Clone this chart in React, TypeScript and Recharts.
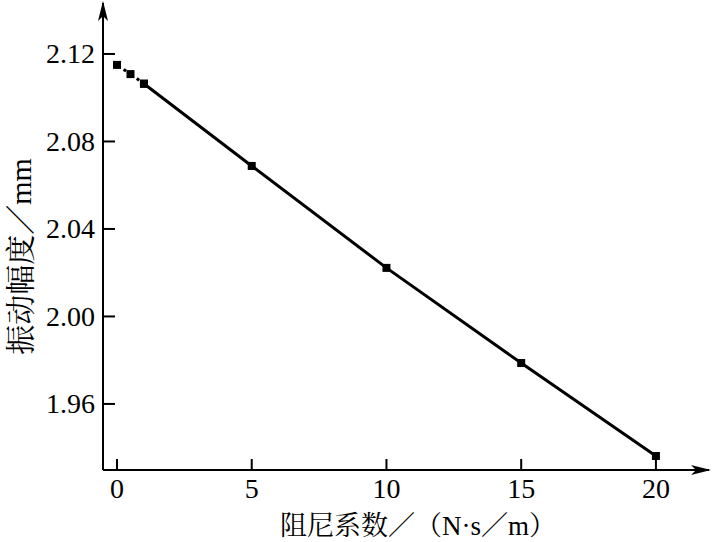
import React from 'react';
import { LineChart, Line, XAxis, YAxis, Label } from 'recharts';

// damping coefficient (N·s/m)
const damping = [0, 0.5, 1, 5, 10, 15, 20];
// vibration amplitude (mm)
const amplitude = [2.115, 2.1108, 2.1064, 2.0688, 2.0222, 1.9787, 1.9362];
const xTicks = [0, 5, 10, 15, 20];
const yTicks = [1.96, 2.0, 2.04, 2.08, 2.12];
const dottedCount = 3; // first three points joined by a dotted line

const data = damping.map((d, i) => ({
    x: d,
    dotted: i < dottedCount ? amplitude[i] : null,
    solid: i >= dottedCount - 1 ? amplitude[i] : null,
}));

const FONT = '"Liberation Serif", "Times New Roman", "Noto Serif CJK SC", "Noto Sans CJK SC", serif';

const SquareDot = (props: any) => {
    const { cx, cy, value } = props;
    if (value == null || cx == null) return null;
    return <rect x={cx - 4} y={cy - 4} width={8} height={8} fill='#000' />;
};

// ticks point into the plot, labels stay outside
const YTick = (props: any) => {
    const x = Number(props.x);
    const y = Number(props.y);
    return (
        <g>
            <line x1={x} x2={x + 12} y1={y} y2={y} stroke='#000' strokeWidth={2} />
            <text x={x - 8} y={y + 9.5} textAnchor='end' fontFamily={FONT} fontSize={28} fill='#000'>
                {Number(props.payload.value).toFixed(2)}
            </text>
        </g>
    );
};

const XTick = (props: any) => {
    const x = Number(props.x);
    const y = Number(props.y);
    return (
        <g>
            <line x1={x} x2={x} y1={y} y2={y - 11} stroke='#000' strokeWidth={2} />
            <text x={x} y={y + 28} textAnchor='middle' fontFamily={FONT} fontSize={28} fill='#000'>
                {props.payload.value}
            </text>
        </g>
    );
};

const YLabel = (props: any) => {
    const { viewBox } = props;
    const cx = 20;
    const cy = viewBox.y + viewBox.height / 2 + 20;
    return (
        <text x={cx} y={cy} transform={`rotate(-90 ${cx} ${cy})`} textAnchor='middle' dominantBaseline='central'
            fontFamily={FONT} fontSize={30} fill='#000'>
            振动幅度／mm
        </text>
    );
};

const XLabel = (props: any) => {
    const { viewBox } = props;
    const cx = viewBox.x + viewBox.width / 2 + 12;
    return (
        <text x={cx} y={535} textAnchor='middle' fontFamily={FONT} fontSize={27} fill='#000'>
            阻尼系数／（N·s／m）
        </text>
    );
};

const App = (): React.ReactElement => {
    return (
        <div style={{ position: 'absolute', left: 0, top: 0, background: '#fff' }}>
            <LineChart
                width={712}
                height={542}
                data={data}
                margin={{ top: 3, right: 3, left: 0, bottom: 0 }}
            >
                <defs>
                    <marker id='arrowHead' viewBox='0 0 20 10' refX='18' refY='5' markerWidth='20' markerHeight='10'
                        markerUnits='userSpaceOnUse' orient='auto-start-reverse'>
                        <path d='M0,0 L20,5 L0,10 L5,5 Z' fill='#000' />
                    </marker>
                </defs>
                <XAxis
                    dataKey='x'
                    type='number'
                    domain={[-0.52, 21.97]}
                    ticks={xTicks}
                    height={72}
                    tickSize={0}
                    tickMargin={0}
                    tickLine={false}
                    axisLine={{ stroke: '#000', strokeWidth: 2, markerEnd: 'url(#arrowHead)' } as any}
                    tick={<XTick />}
                >
                    <Label content={<XLabel />} />
                </XAxis>
                <YAxis
                    type='number'
                    domain={[1.9298, 2.1433]}
                    ticks={yTicks}
                    width={103}
                    tickSize={0}
                    tickMargin={0}
                    tickLine={false}
                    axisLine={{ stroke: '#000', strokeWidth: 2, markerStart: 'url(#arrowHead)' } as any}
                    tick={<YTick />}
                >
                    <Label content={<YLabel />} />
                </YAxis>
                <Line
                    dataKey='dotted'
                    stroke='#000'
                    strokeWidth={3}
                    strokeDasharray='3 5'
                    dot={<SquareDot />}
                    activeDot={false}
                    connectNulls={false}
                    isAnimationActive={false}
                />
                <Line
                    dataKey='solid'
                    stroke='#000'
                    strokeWidth={3}
                    dot={<SquareDot />}
                    activeDot={false}
                    connectNulls={false}
                    isAnimationActive={false}
                />
            </LineChart>
        </div>
    );
};

export default App;
